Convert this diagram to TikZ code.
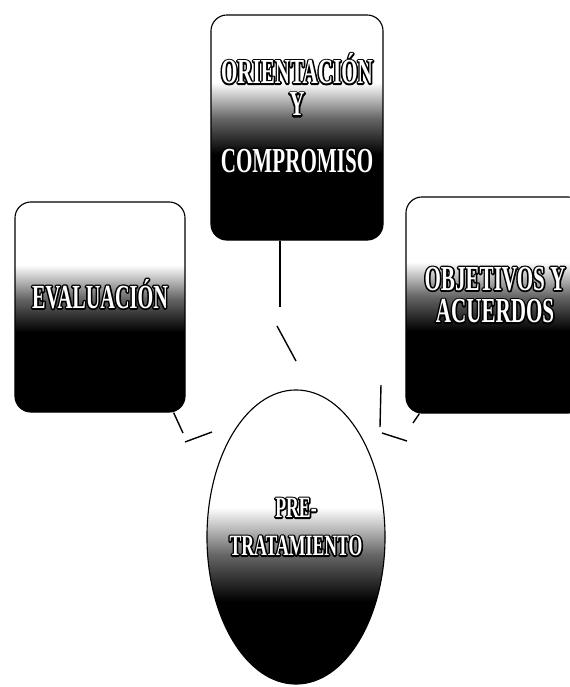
\documentclass[tikz,border=0pt]{standalone}
\usepackage{fontspec}
\usepackage{xcolor}
\usepackage{tikz}
\usetikzlibrary{shapes.geometric}

\newfontfamily\bannerfont[FakeStretch=0.6]{Liberation Serif}
% white letters over a black rimmed copy
\newcommand\rimmed[1]{\rlap{\color{black}\special{pdf:literal direct 0 G 2.2 w 1 j 2 Tr}#1\special{pdf:literal direct 0 Tr}}#1}

% white top, black bottom (path spans 25bp..75bp)
\pgfdeclareverticalshading{panelshade}{100bp}{color(0bp)=(black); color(44bp)=(black); color(52bp)=(black!60); color(60bp)=(white); color(100bp)=(white)}
\pgfdeclareverticalshading{eggshade}{100bp}{color(0bp)=(black); color(39bp)=(black); color(47bp)=(black!60); color(55bp)=(white); color(100bp)=(white)}

\tikzset{
  panel/.style={rectangle, rounded corners=0.4cm, draw=black, line width=0.8pt, shading=panelshade},
  paneltext/.style={text=white, align=center, font=\bannerfont\bfseries\fontsize{25}{23}\selectfont},
  link/.style={draw=black, line width=1pt}
}

\begin{document}
\begin{tikzpicture}[x=0.025cm, y=-0.025cm]
        % Page frame
        \useasboundingbox (0,0) rectangle (570,687);
        \clip (0,0) rectangle (570,687);

        % Panels
        \node[panel, minimum width=4.3cm, minimum height=5.625cm] (orient) at (297,127.5) {};
        \node[panel, minimum width=4.25cm, minimum height=5.25cm] (evalu) at (100,307) {};
        \node[panel, minimum width=4.45cm, minimum height=5.4cm] (objet) at (495,305) {};

        % Central egg
        \node[ellipse, draw=black, line width=0.8pt, shading=eggshade,
              minimum width=4.45cm, minimum height=7.35cm] (pre) at (296,537) {};

        % Texts
        \node[paneltext] (orienttext) at (297,113)
            {\rimmed{ORIENTACIÓN}\\\rimmed{Y}\\[17pt]\rimmed{COMPROMISO}};
        \node[paneltext, font=\bannerfont\bfseries\fontsize{24}{23}\selectfont] (evalutext) at (100,294)
            {\rimmed{EVALUACIÓN}};
        \node[paneltext] (objettext) at (495,295)
            {\rimmed{OBJETIVOS Y}\\\rimmed{ACUERDOS}};
        \node[paneltext, font=\bannerfont\bfseries\fontsize{21}{27}\selectfont] (pretext) at (296,527)
            {\rimmed{PRE-}\\\rimmed{TRATAMIENTO}};

        % Links to the egg
        \coordinate (ta) at (280,307);
        \coordinate (tb) at (277,326);
        \coordinate (tc) at (296,361);
        \draw[link] (orient.south -| ta) -- (ta);
        \draw[link] (tb) -- (tc);

        \coordinate (la) at (183,433);
        \coordinate (lb) at (185,442);
        \coordinate (lc) at (212,432);
        \draw[link] ([xshift=-0.3cm]evalu.south east) -- (la);
        \draw[link] (lb) -- (lc);

        \coordinate (ra) at (413,423);
        \coordinate (rb) at (381,385);
        \coordinate (rc) at (380,427);
        \coordinate (rd) at (382,433);
        \coordinate (re) at (407,441);
        \draw[link] ([xshift=0.35cm]objet.south west) -- (ra);
        \draw[link] (rb) -- (rc);
        \draw[link] (rd) -- (re);
    \end{tikzpicture}
\end{document}
